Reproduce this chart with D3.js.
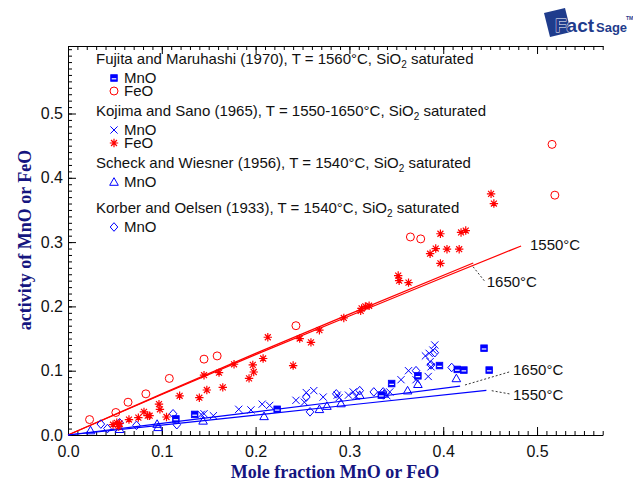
<!DOCTYPE html>
<html><head><meta charset="utf-8">
<script src="https://cdn.jsdelivr.net/npm/d3@7"></script>
<style>body{margin:0;background:#fff}svg{display:block}</style>
</head><body><svg id="c" width="633" height="483"></svg>
<script>
// ---------- data ----------
const xTicks = [0, 0.1, 0.2, 0.3, 0.4, 0.5];
const yTicks = [0, 0.1, 0.2, 0.3, 0.4, 0.5];

// Fujita and Maruhashi (1970) MnO (half-filled squares)
const fujitaMnO = [[0.115,0.025],[0.135,0.032],[0.223,0.040],[0.334,0.062],[0.345,0.080],[0.373,0.092],[0.396,0.108],[0.415,0.102],[0.422,0.101],[0.4435,0.135],[0.449,0.101]];
// Fujita and Maruhashi (1970) FeO (open circles)
const fujitaFeO = [[0.023,0.024],[0.051,0.035],[0.064,0.051],[0.083,0.064],[0.108,0.088],[0.145,0.118],[0.159,0.123],[0.243,0.170],[0.365,0.308],[0.376,0.305],[0.516,0.452],[0.519,0.373]];
// Kojima and Sano (1965) MnO (x)
const kojimaMnO = [[0.142,0.032],[0.145,0.033],[0.155,0.030],[0.182,0.040],[0.195,0.039],[0.207,0.048],[0.215,0.046],[0.243,0.054],[0.252,0.051],[0.254,0.066],[0.262,0.069],[0.272,0.059],[0.287,0.062],[0.289,0.058],[0.299,0.062],[0.304,0.067],[0.307,0.060],[0.340,0.061],[0.343,0.067],[0.355,0.086],[0.363,0.100],[0.371,0.086],[0.381,0.123],[0.384,0.091],[0.385,0.127],[0.386,0.114],[0.387,0.106],[0.389,0.132],[0.391,0.140]];
// Kojima and Sano (1965) FeO (asterisks)
const kojimaFeO = [[0.048,0.016],[0.052,0.019],[0.054,0.013],[0.055,0.018],[0.065,0.024],[0.075,0.027],[0.081,0.036],[0.085,0.030],[0.087,0.030],[0.097,0.048],[0.098,0.040],[0.105,0.028],[0.119,0.061],[0.140,0.058],[0.145,0.093],[0.148,0.070],[0.161,0.097],[0.165,0.074],[0.177,0.110],[0.193,0.088],[0.197,0.109],[0.198,0.098],[0.208,0.119],[0.213,0.152],[0.240,0.108],[0.247,0.150],[0.259,0.144],[0.268,0.163],[0.294,0.182],[0.312,0.193],[0.313,0.197],[0.317,0.200],[0.321,0.201],[0.352,0.248],[0.353,0.240],[0.363,0.237],[0.386,0.282],[0.392,0.290],[0.397,0.313],[0.397,0.267],[0.404,0.289],[0.417,0.289],[0.419,0.315],[0.424,0.318],[0.451,0.375],[0.454,0.360]];
// Scheck and Wiesner (1956) MnO (triangles)
const scheckMnO = [[0.024,0.007],[0.055,0.009],[0.095,0.017],[0.096,0.012],[0.144,0.022],[0.209,0.029],[0.268,0.040],[0.276,0.045],[0.291,0.049],[0.311,0.062],[0.337,0.064],[0.362,0.069],[0.373,0.079],[0.414,0.088]];
// Korber and Oelsen (1933) MnO (diamonds)
const korberMnO = [[0.035,0.017],[0.042,0.010],[0.055,0.019],[0.073,0.015],[0.112,0.033],[0.116,0.016],[0.254,0.059],[0.258,0.036],[0.286,0.064],[0.311,0.069],[0.326,0.067],[0.336,0.067],[0.371,0.100],[0.387,0.109],[0.391,0.128],[0.409,0.105]];

// calculated curves
const feo1550 = [[0,0],[0.1,0.063],[0.2,0.125],[0.3,0.185],[0.4,0.245],[0.483,0.294]];
const feo1650 = [[0,0],[0.1,0.064],[0.2,0.127],[0.3,0.188],[0.432,0.2675]];
const mno1650 = [[0,0],[0.1,0.018],[0.2,0.036],[0.3,0.054],[0.418,0.076]];
const mno1550 = [[0,0],[0.1,0.0155],[0.2,0.031],[0.3,0.0467],[0.446,0.0695]];

// curve labels
const curveLabels = [
  {text:"1550°C", from:null, to:null, at:[0.4925,0.2955]},
  {text:"1650°C", from:[0.4318,0.2617], to:[0.4446,0.2384], at:[0.4464,0.2384]},
  {text:"1650°C", from:[0.4232,0.0778], to:[0.4712,0.0984], at:[0.4744,0.1011]},
  {text:"1550°C", from:[0.4517,0.0689], to:[0.4712,0.0638], at:[0.4744,0.0622]}
];

const legendRows = [
  {type:"head", text:["Fujita and Maruhashi (1970), T = 1560°C, SiO","2"," saturated"]},
  {type:"item", sym:"square", text:"MnO"},
  {type:"item", sym:"circle", text:"FeO"},
  {type:"head", text:["Kojima and Sano (1965), T = 1550-1650°C, SiO","2"," saturated"]},
  {type:"item", sym:"cross", text:"MnO"},
  {type:"item", sym:"star", text:"FeO"},
  {type:"head", text:["Scheck and Wiesner (1956), T = 1540°C, SiO","2"," saturated"]},
  {type:"item", sym:"triangle", text:"MnO"},
  {type:"head", text:["Korber and Oelsen (1933), T = 1540°C, SiO","2"," saturated"]},
  {type:"item", sym:"diamond", text:"MnO"}
];
const legendY = [59, 78, 91, 111, 130, 143, 163, 182, 208, 227];

// ---------- drawing ----------
const BLUE = "#0000ff", RED = "#ff0000", NAVY = "#15157f";
const FONT = "'Liberation Sans', Arial, Helvetica, sans-serif";
const SERIF = "'Liberation Serif','Times New Roman',serif";
const svg = d3.select("#c");
const x = d3.scaleLinear().domain([0, 0.57]).range([68, 602.7]);
const y = d3.scaleLinear().domain([0, 0.605]).range([435, 46]);
const X0 = x.range()[0], Y0 = y.range()[0], Y1 = y.range()[1];

const minorX = d3.range(0, 58).map(i => i / 100);
const minorY = d3.range(0, 61).map(i => i / 100);

function styleAxis(g) {
  g.selectAll("path.domain").attr("stroke", "#000").attr("stroke-width", 1);
  g.selectAll(".tick line").attr("stroke", "#000").attr("stroke-width", 1);
  g.selectAll("text").attr("font-family", FONT).attr("font-size", 16).attr("fill", "#111");
}
svg.append("g").attr("transform", `translate(0,${Y0})`)
  .call(d3.axisBottom(x).tickValues(minorX).tickSize(-4).tickSizeOuter(0).tickFormat(""))
  .call(styleAxis);
svg.append("g").attr("transform", `translate(0,${Y0})`)
  .call(d3.axisBottom(x).tickValues(xTicks).tickSize(-8).tickSizeOuter(0).tickPadding(11).tickFormat(d3.format(".1f")))
  .call(styleAxis);
svg.append("g").attr("transform", `translate(0,${Y1})`)
  .call(d3.axisTop(x).tickValues(minorX).tickSize(-4).tickSizeOuter(0).tickFormat(""))
  .call(styleAxis);
svg.append("g").attr("transform", `translate(0,${Y1})`)
  .call(d3.axisTop(x).tickValues(xTicks).tickSize(-8).tickSizeOuter(0).tickFormat(""))
  .call(styleAxis);
svg.append("g").attr("transform", `translate(${X0},0)`)
  .call(d3.axisLeft(y).tickValues(minorY).tickSize(-4).tickSizeOuter(0).tickFormat(""))
  .call(styleAxis);
svg.append("g").attr("transform", `translate(${X0},0)`)
  .call(d3.axisLeft(y).tickValues(yTicks).tickSize(-8).tickSizeOuter(0).tickPadding(5).tickFormat(d3.format(".1f")))
  .call(styleAxis);

// axis titles
svg.append("text").attr("x", 335).attr("y", 478).attr("text-anchor", "middle")
  .attr("font-family", SERIF).attr("font-weight", "bold")
  .attr("font-size", 18).attr("fill", NAVY).text("Mole fraction MnO or FeO");
svg.append("text").attr("transform", "translate(31,240) rotate(-90)").attr("text-anchor", "middle")
  .attr("font-family", SERIF).attr("font-weight", "bold")
  .attr("font-size", 18).attr("fill", NAVY).text("activity of MnO or FeO");

// curves
const line = d3.line().x(d => x(d[0])).y(d => y(d[1]));
const curves = svg.append("g").attr("fill", "none").attr("stroke-width", 1.2);
curves.append("path").attr("d", line(feo1550)).attr("stroke", RED);
curves.append("path").attr("d", line(feo1650)).attr("stroke", RED);
curves.append("path").attr("d", line(mno1650)).attr("stroke", BLUE);
curves.append("path").attr("d", line(mno1550)).attr("stroke", BLUE);

// curve labels
const cl = svg.append("g");
curveLabels.forEach(c => {
  if (c.from) cl.append("line").attr("x1", x(c.from[0])).attr("y1", y(c.from[1]))
    .attr("x2", x(c.to[0])).attr("y2", y(c.to[1]))
    .attr("stroke", "#000").attr("stroke-width", 0.8).attr("stroke-dasharray", "2,2");
  cl.append("text").attr("x", x(c.at[0])).attr("y", y(c.at[1])).attr("dy", "0.35em")
    .attr("font-family", FONT).attr("font-size", 15).attr("fill", "#111").text(c.text);
});

// symbols
function drawSym(g, type, cx, cy) {
  if (type === "square") {
    g.append("rect").attr("x", cx - 3.3).attr("y", cy - 3.3).attr("width", 6.6).attr("height", 6.6)
      .attr("fill", BLUE).attr("stroke", BLUE).attr("stroke-width", 0.8);
    g.append("line").attr("x1", cx - 2.3).attr("x2", cx + 2.3).attr("y1", cy + 0.8).attr("y2", cy + 0.8)
      .attr("stroke", "#fff").attr("stroke-width", 1.2);
  } else if (type === "circle") {
    g.append("circle").attr("cx", cx).attr("cy", cy).attr("r", 4)
      .attr("fill", "none").attr("stroke", RED).attr("stroke-width", 1);
  } else if (type === "cross") {
    g.append("path").attr("d", `M${cx-3.6},${cy-3.6}L${cx+3.6},${cy+3.6}M${cx-3.6},${cy+3.6}L${cx+3.6},${cy-3.6}`)
      .attr("stroke", BLUE).attr("stroke-width", 1).attr("fill", "none");
  } else if (type === "star") {
    const r = 4.2, a = r * 0.7071;
    g.append("path").attr("d", `M${cx},${cy-r}V${cy+r}M${cx-r},${cy}H${cx+r}M${cx-a},${cy-a}L${cx+a},${cy+a}M${cx-a},${cy+a}L${cx+a},${cy-a}`)
      .attr("stroke", RED).attr("stroke-width", 1.2).attr("fill", "none");
  } else if (type === "triangle") {
    g.append("path").attr("d", `M${cx},${cy-4.3}L${cx+4.3},${cy+3.3}L${cx-4.3},${cy+3.3}Z`)
      .attr("stroke", BLUE).attr("stroke-width", 1).attr("fill", "none");
  } else if (type === "diamond") {
    g.append("path").attr("d", `M${cx},${cy-4.3}L${cx+3.8},${cy}L${cx},${cy+4.3}L${cx-3.8},${cy}Z`)
      .attr("stroke", BLUE).attr("stroke-width", 1).attr("fill", "none");
  }
}
const pts = svg.append("g");
[[scheckMnO,"triangle"],[korberMnO,"diamond"],[kojimaMnO,"cross"],[fujitaMnO,"square"],[kojimaFeO,"star"],[fujitaFeO,"circle"]]
  .forEach(([data, t]) => data.forEach(d => drawSym(pts, t, x(d[0]), y(d[1]))));

// legend
const lg = svg.append("g").attr("font-family", FONT).attr("font-size", 15).attr("fill", "#111");
legendRows.forEach((r, i) => {
  const yy = legendY[i];
  if (r.type === "head") {
    const t = lg.append("text").attr("x", 96).attr("y", yy).attr("dy", "0.35em");
    t.append("tspan").text(r.text[0]);
    t.append("tspan").attr("font-size", 10).attr("dy", 4).text(r.text[1]);
    t.append("tspan").attr("dy", -4).text(r.text[2]);
  } else {
    drawSym(lg, r.sym, 114, yy);
    lg.append("text").attr("x", 124).attr("y", yy).attr("dy", "0.33em").text(r.text);
  }
});

// logo
const LOGO = "#1f3c8c";
const logo = svg.append("g");
logo.append("path").attr("d", "M544,13 L565,8 L571,32 L550,37 Z").attr("fill", LOGO);
logo.append("text").attr("x", 555).attr("y", 32).attr("font-family", FONT)
  .attr("font-weight", "bold").attr("font-size", 19).attr("fill", LOGO)
  .attr("stroke", "#fff").attr("stroke-width", 0.8).attr("paint-order", "stroke")
  .text("Fact");
logo.append("text").attr("x", 596).attr("y", 32).attr("font-family", FONT)
  .attr("font-weight", "bold").attr("font-size", 13).attr("fill", LOGO).text("Sage");
logo.append("text").attr("x", 626).attr("y", 20).attr("font-family", FONT)
  .attr("font-weight", "bold").attr("font-size", 5).attr("fill", LOGO).text("TM");
</script></body></html>
